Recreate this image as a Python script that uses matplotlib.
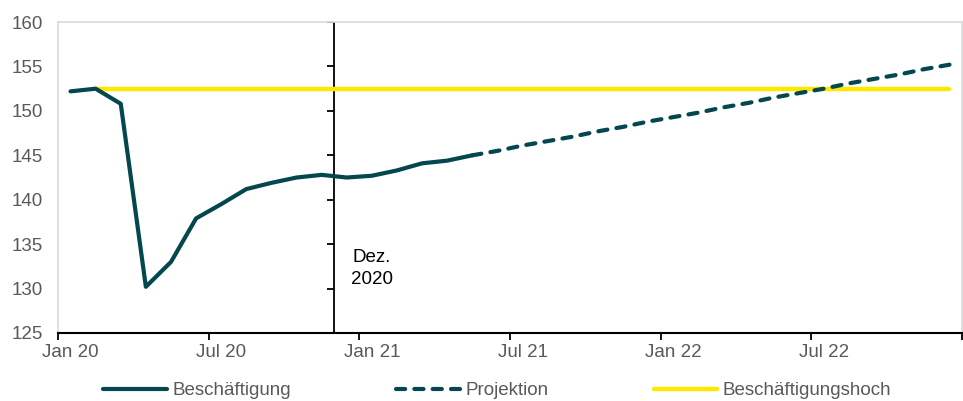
import matplotlib
matplotlib.use("Agg")
import matplotlib.pyplot as plt
from matplotlib.lines import Line2D

plt.rcParams['font.family'] = ['Liberation Sans', 'DejaVu Sans']

# ---- data ----
monate = ["Jan 20", "Feb 20", "Mar 20", "Apr 20", "Mai 20", "Jun 20", "Jul 20", "Aug 20",
          "Sep 20", "Okt 20", "Nov 20", "Dez 20", "Jan 21", "Feb 21", "Mar 21", "Apr 21",
          "Mai 21", "Jun 21", "Jul 21", "Aug 21", "Sep 21", "Okt 21", "Nov 21", "Dez 21",
          "Jan 22", "Feb 22", "Mar 22", "Apr 22", "Mai 22", "Jun 22", "Jul 22", "Aug 22",
          "Sep 22", "Okt 22", "Nov 22", "Dez 22"]
tick_labels = ["Jan 20", "Jul 20", "Jan 21", "Jul 21", "Jan 22", "Jul 22"]

beschaeftigung = [152.2, 152.5, 150.8, 130.2, 133.0, 137.9, 139.5, 141.2, 141.9,
                  142.5, 142.8, 142.5, 142.7, 143.3, 144.1, 144.4, 145.0]
projektion_start = "Mai 21"
projektion = [145.0, 145.5, 146.1, 146.6, 147.1, 147.7, 148.2, 148.8, 149.3, 149.8,
              150.4, 150.9, 151.5, 152.0, 152.5, 153.1, 153.6, 154.1, 154.7, 155.2]
hoch_wert = 152.5
hoch_start, hoch_ende = "Feb 20", "Dez 22"
marker_monat = "Dez 20"
marker_text = "Dez.\n2020"

# ---- style ----
teal = '#04474F'
yellow = '#FFE800'
grey_text = '#595959'
fs = 13.5

fig = plt.figure(figsize=(9.63, 4.01), dpi=100)
ax = fig.add_axes([0.0602, 0.1696, 0.9388, 0.7754])

x_b = list(range(len(beschaeftigung)))
p0 = monate.index(projektion_start)
x_p = list(range(p0, p0 + len(projektion)))

ax.hlines(hoch_wert, monate.index(hoch_start), monate.index(hoch_ende),
          color=yellow, lw=3.2, capstyle='round', zorder=2)
ax.plot(x_p, projektion, color=teal, lw=3.0, ls=(0, (2.2, 2.2)),
        dash_capstyle='round', zorder=3)
ax.plot(x_b, beschaeftigung, color=teal, lw=3.0, solid_capstyle='round',
        solid_joinstyle='round', zorder=4)

ax.set_xlim(-0.5, len(monate) - 0.5)
ax.set_ylim(125, 160)
ax.set_yticks(range(125, 161, 5))
ax.tick_params(axis='y', length=0, pad=11, labelsize=fs, labelcolor=grey_text)

# x ticks: marks at category boundaries, labels at category centres
label_pos = [monate.index(t) for t in tick_labels]
ax.set_xticks([p - 0.5 for p in label_pos] + [len(monate) - 0.5])
ax.set_xticklabels([])
ax.set_xticks(label_pos, minor=True)
ax.set_xticklabels(tick_labels, minor=True)
ax.tick_params(axis='x', which='major', length=5, width=1.3, color='black', direction='out')
ax.tick_params(axis='x', which='minor', length=0, pad=8, labelsize=fs, labelcolor=grey_text)

for s in ['left', 'top', 'right']:
    ax.spines[s].set_color('#D9D9D9')
    ax.spines[s].set_linewidth(1.2)
ax.spines['bottom'].set_color('black')
ax.spines['bottom'].set_linewidth(1.5)

# vertical marker axis at Dec 2020
xm = monate.index(marker_monat) - 0.5
ax.axvline(xm, color='black', lw=1.3, zorder=1)
ax.plot([xm] * 7, list(range(130, 161, 5)), ls='none', marker=0, markersize=5,
        mew=1.3, color='black', zorder=1)
ax.text(xm + 1.5, 134.5, marker_text, ha='center', va='top', fontsize=fs,
        color='black', linespacing=1.4)

handles = [
    Line2D([], [], color=teal, lw=3.0, solid_capstyle='round'),
    Line2D([], [], color=teal, lw=3.0, ls=(0, (2.2, 2.2)), dash_capstyle='round'),
    Line2D([], [], color=yellow, lw=3.2, solid_capstyle='round'),
]
leg = fig.legend(handles, ["Beschäftigung", "Projektion", "Beschäftigungshoch"],
                 loc='center left', bbox_to_anchor=(0.107, 0.026), ncol=3, frameon=False,
                 fontsize=fs, handlelength=3.4, handletextpad=0.3, columnspacing=5.6,
                 borderaxespad=0, borderpad=0)
for t in leg.get_texts():
    t.set_color(grey_text)

fig.savefig('out.png', dpi=100)
